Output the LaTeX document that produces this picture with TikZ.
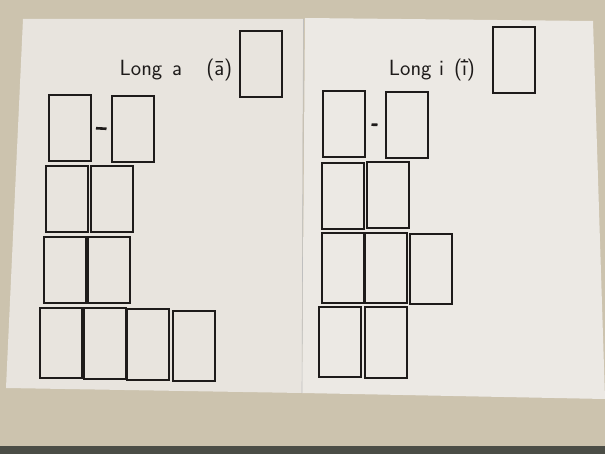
\documentclass[tikz,border=0pt]{standalone}
\usepackage{fontspec}
\usepackage{tikz}
\usetikzlibrary{positioning}

\definecolor{cloth}{HTML}{CCC3AE}
\definecolor{rug}{HTML}{4B4D46}
\definecolor{paperL}{HTML}{E8E4DE}
\definecolor{paperR}{HTML}{ECE9E4}
\definecolor{ink}{HTML}{1E1B1A}

\newcommand{\dotmacroni}{\ooalign{ī\cr\hidewidth\raisebox{0.62em}{.}\hidewidth\cr}}

\begin{document}
\begin{tikzpicture}[x=1pt, y=-1pt,
    card/.style={draw=ink, line width=2pt, inner sep=0pt,
                 minimum width=42pt, minimum height=66pt},
    tallcard/.style={card, minimum height=70pt},
    dashmark/.style={draw=ink, line width=2.6pt},
    title/.style={text=ink, font=\sffamily\fontsize{22}{24}\selectfont}
]

% --- Background: cloth and sheets ---
\useasboundingbox (0,0) rectangle (605,454);
\fill[cloth] (0,0) rectangle (605,454);
\fill[rug] (0,446) rectangle (605,454);
\fill[paperL] (23,19) -- (303,19) -- (302,393) -- (6,388) -- cycle;
\fill[paperR] (305,18) -- (593,21) -- (605,399) -- (302,393) -- cycle;
\draw[black!25, line width=0.6pt] (303.5,19) -- (302,393);

% --- Left sheet: title ---
\node[title] (ta) at (176,70) {Long\hspace{0.45em}a\hspace{1.1em}(ā)};
\node[card] (atop) at (261,64) {};

% --- Left sheet: rows ---
\node[card] (a11) at (70,128)    {};
\node[card] (a12) at (132.5,129) {};
\node[card] (a21) at (66.5,199)  {};
\node[card] (a22) at (112,199)   {};
\node[card] (a31) at (64.5,270)  {};
\node[card] (a32) at (108.5,270.5) {};
\node[tallcard] (a41) at (61,343)    {};
\node[tallcard] (a42) at (105,343.5) {};
\node[tallcard] (a43) at (147.5,344.5) {};
\node[tallcard] (a44) at (193.5,346) {};

% --- Right sheet: title ---
\node[title] (ti) at (432,70) {Long\hspace{0.35em}i\hspace{0.45em}(\dotmacroni)};
\node[card] (itop) at (513.5,60) {};

% --- Right sheet: rows ---
\node[card] (i11) at (343.5,124.5) {};
\node[card] (i12) at (406.5,125)   {};
\node[card] (i21) at (343,196)     {};
\node[card] (i22) at (387.5,195.5) {};
\node[tallcard] (i31) at (342.5,268) {};
\node[tallcard] (i32) at (386,268.5) {};
\node[tallcard] (i33) at (431,269)   {};
\node[tallcard] (i41) at (340,342)   {};
\node[tallcard] (i42) at (385.5,342.5) {};

% --- Dashes between first pair ---
\draw[dashmark, shorten <=4pt, shorten >=4pt] (a11.east) -- (a12.west);
\draw[dashmark, shorten <=6pt, shorten >=7pt] (i11.east) -- (i12.west);

\end{tikzpicture}
\end{document}
